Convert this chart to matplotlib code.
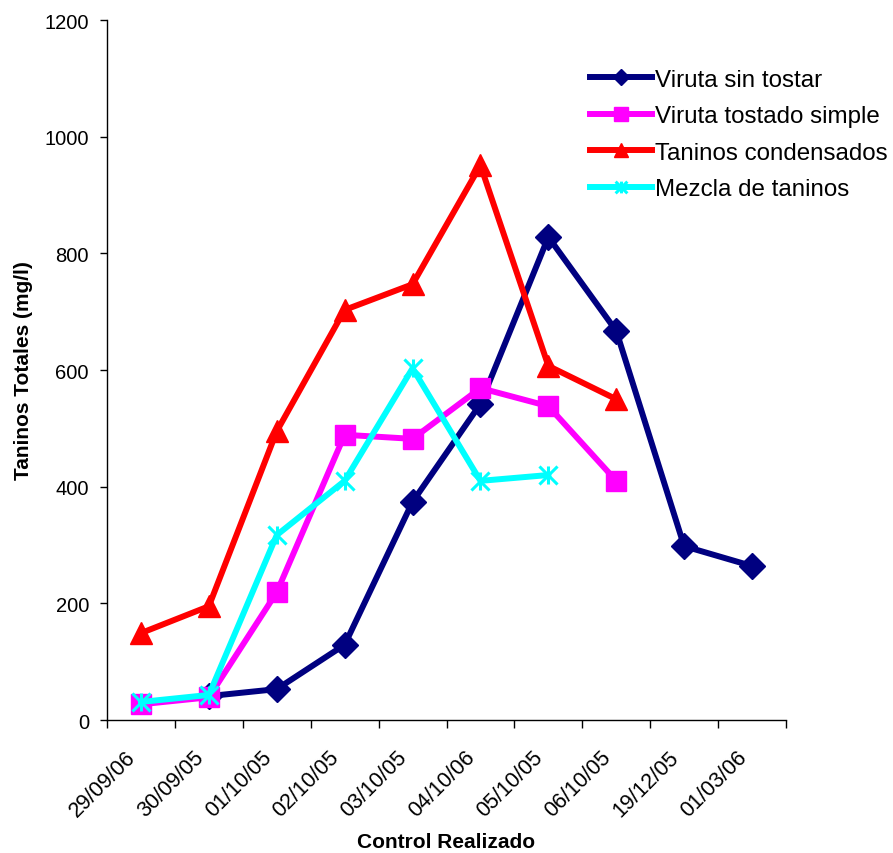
import numpy as np
import matplotlib
matplotlib.use("Agg")
import matplotlib.pyplot as plt
import matplotlib.transforms as mtransforms
from matplotlib.path import Path

plt.rcParams['font.family'] = ['Liberation Sans', 'DejaVu Sans']

fechas = ["29/09/06", "30/09/05", "01/10/05", "02/10/05", "03/10/05",
          "04/10/06", "05/10/05", "06/10/05", "19/12/05", "01/03/06"]

nan = np.nan
viruta_sin_tostar = [nan, 41, 53, 129, 374, 542, 828, 667, 298, 264]
viruta_tostado_simple = [27, 39, 219, 489, 482, 569, 538, 410, nan, nan]
taninos_condensados = [149, 195, 495, 703, 747, 951, 607, 550, nan, nan]
mezcla_taninos = [31, 43, 317, 410, 603, 410, 420, nan, nan, nan]

# asterisk marker: vertical stroke plus an X
star = Path([(0, -1), (0, 1), (-1, -1), (1, 1), (-1, 1), (1, -1)],
            [Path.MOVETO, Path.LINETO] * 3)

fig = plt.figure(figsize=(8.93, 8.54), dpi=100)
ax = fig.add_axes([0.1198, 0.1557, 0.7604, 0.8197])

x = np.arange(len(fechas))
lw = 4.3
ax.plot(x, viruta_sin_tostar, color="#000080", lw=lw, marker="D", ms=13,
        label="Viruta sin tostar")
ax.plot(x, viruta_tostado_simple, color="#FF00FF", lw=lw, marker="s", ms=15,
        label="Viruta tostado simple")
ax.plot(x, taninos_condensados, color="#FF0000", lw=lw, marker="^", ms=16,
        label="Taninos condensados")
ax.plot(x, mezcla_taninos, color="#00FFFF", lw=lw, marker=star, ms=13,
        mew=2.2, label="Mezcla de taninos")

ax.set_xlim(-0.5, len(fechas) - 0.5)
ax.set_ylim(0, 1200)
ax.set_yticks(np.arange(0, 1201, 200))
ax.tick_params(axis="y", labelsize=14.5, length=5, width=1, direction="out",
               pad=8)

ax.set_xticks(x)
ax.set_xticklabels(fechas, rotation=45, ha="right", va="top",
                   rotation_mode="anchor", fontsize=15.5)
ax.tick_params(axis="x", which="major", length=0, pad=19)
ax.set_xticks(np.arange(-0.5, len(fechas)), minor=True)
ax.tick_params(axis="x", which="minor", length=6, width=1, direction="out")
shift = mtransforms.ScaledTranslation(-16 / 100, 0, fig.dpi_scale_trans)
for lab in ax.get_xticklabels():
    lab.set_transform(lab.get_transform() + shift)

for side in ("top", "right"):
    ax.spines[side].set_visible(False)
for side in ("left", "bottom"):
    ax.spines[side].set_linewidth(1)

fig.text(446.5 / 893, 1 - 843 / 854, "Control Realizado", fontsize=15,
         fontweight="bold", ha="center", va="center")
ax.set_ylabel("Taninos Totales (mg/l)", fontsize=15, fontweight="bold",
              labelpad=8)

leg = ax.legend(loc="upper left", bbox_to_anchor=(0.697, 0.944), frameon=False,
                fontsize=17.4, handlelength=2.55, handletextpad=0.13,
                labelspacing=0.6, borderaxespad=0, markerscale=0.65)

fig.savefig("out.png", dpi=100)
